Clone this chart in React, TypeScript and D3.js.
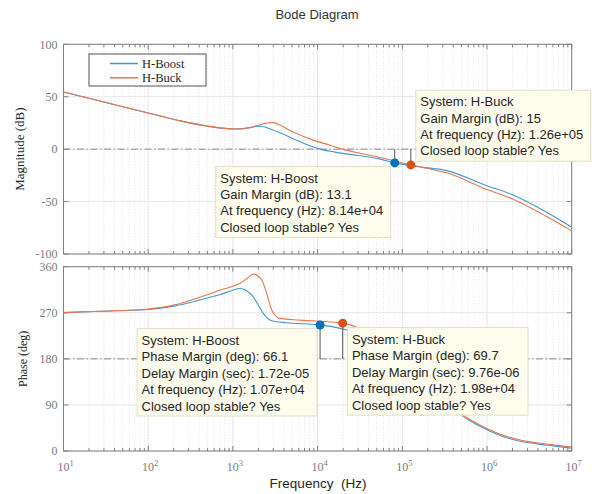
import React from 'react';
import * as d3 from 'd3';

// ---- Open-loop frequency responses (Hz, dB / deg) ----
const boostMagFreq = [10, 20, 50, 100, 240, 500, 800, 1100, 1600, 2000, 2200, 2600, 3600, 5600, 8900, 10700, 16000, 30000, 54600, 81400, 150000, 334000, 1000000, 2000000, 5000000, 10000000];
const boostMag = [54.5, 48.5, 40.5, 34.5, 27, 22, 19.8, 19.2, 20.5, 22, 21.8, 20, 15.6, 8.6, 2, 0, -2.8, -6, -9.5, -13.1, -16.6, -20.5, -35, -43.5, -60, -74.5];

const buckMagFreq = [10, 20, 50, 100, 240, 500, 800, 1100, 1600, 2000, 2500, 2870, 3200, 3600, 4500, 5660, 8900, 14000, 19800, 30000, 54600, 80000, 126000, 200000, 334000, 1000000, 2000000, 5000000, 10000000];
const buckMag = [54.5, 48.5, 40.5, 34.5, 27, 22, 19.8, 19.2, 20.7, 22.8, 24.8, 25.5, 24.8, 23, 18.8, 15, 8.6, 3.8, 0, -3.5, -7.9, -11.2, -15, -18.5, -22.6, -38.5, -47.5, -64, -78];

const boostPhaseFreq = [10, 27, 100, 200, 407, 705, 1000, 1213, 1456, 1742, 1996, 2285, 2870, 4316, 10700, 22100, 40000, 81400, 150000, 250000, 480000, 630000, 1000000, 1560000, 2460000, 3860000, 6000000, 10000000];
const boostPhase = [270.3, 273, 276.5, 283, 295, 305.6, 314, 317.5, 313, 301, 285, 268.8, 254.4, 250.5, 246.1, 236.3, 218, 180, 138, 108, 72, 59, 41.5, 28, 19, 14, 10, 5.5];

const buckPhaseFreq = [10, 27, 100, 200, 407, 705, 1213, 1500, 1742, 2188, 2506, 2870, 3200, 3600, 6190, 19800, 40000, 70000, 126000, 200000, 300000, 480000, 630000, 1000000, 1560000, 2460000, 3860000, 6000000, 10000000];
const buckPhase = [270.3, 273, 277.5, 285, 300.5, 314, 327.5, 338, 345.6, 334, 307.9, 275.3, 264, 259, 255.7, 249.7, 231, 208, 180, 148, 117, 74.5, 61.5, 44, 30.5, 21.5, 16, 12, 7.5];

// ---- Stability margins ----
const systemNames = ['H-Boost', 'H-Buck'];
const gainMarginDb = [13.1, 15];
const gainMarginFreq = [8.14e4, 1.26e5];
const phaseMarginDeg = [66.1, 69.7];
const delayMarginSec = [1.72e-5, 9.76e-6];
const phaseMarginFreq = [1.07e4, 1.98e4];

const magTicks = [-100, -50, 0, 50, 100];
const phaseTicks = [0, 90, 180, 270, 360];
const decadeExponents = [1, 2, 3, 4, 5, 6, 7];

const lineColors = ['#4596d5', '#e8754c'];
const markerColors = ['#0072BD', '#D95319'];

const W = 597;
const H = 494;
const X0 = 63.5;
const X1 = 571.7;
const MAG_TOP = 44.3;
const MAG_BOTTOM = 254;
const PH_TOP = 266.7;
const PH_BOTTOM = 451;

const SANS = '"Liberation Sans", Arial, Helvetica, sans-serif';
const SERIF = '"Liberation Serif", "Times New Roman", serif';
const AXIS = '#808080';

const xScale = d3.scaleLog().domain([10, 1e7]).range([X0, X1]);
const magY = d3.scaleLinear().domain([-100, 100]).range([MAG_BOTTOM, MAG_TOP]);
const phaseY = d3.scaleLinear().domain([0, 360]).range([PH_BOTTOM, PH_TOP]);

const majorFreqs = decadeExponents.map((e) => Math.pow(10, e));
const minorFreqs: number[] = [];
for (let e = 1; e < 7; e++) {
  for (let k = 2; k <= 9; k++) minorFreqs.push(k * Math.pow(10, e));
}

function fmtExp(v: number): string {
  const s = v.toExponential(2);
  return s.replace(/e([+-])(\d)$/, 'e$10$2');
}

function zip(f: number[], v: number[]): [number, number][] {
  return f.map((d, i) => [d, v[i]]);
}

function Frame({ top, bottom, y, ticks, id }: { top: number; bottom: number; y: d3.ScaleLinear<number, number>; ticks: number[]; id: string }) {
  return (
    <g>
      {/* minor grid */}
      {minorFreqs.map((f) => (
        <line key={'mg' + f} x1={xScale(f)} x2={xScale(f)} y1={top} y2={bottom} stroke="#dcdcdc" strokeWidth={0.8} strokeDasharray="1,2" />
      ))}
      {/* major grid */}
      {majorFreqs.map((f) => (
        <line key={'Mg' + f} x1={xScale(f)} x2={xScale(f)} y1={top} y2={bottom} stroke="#e6e6e6" strokeWidth={1} />
      ))}
      {ticks.map((t) => (
        <line key={'hg' + t} x1={X0} x2={X1} y1={y(t)} y2={y(t)} stroke="#e6e6e6" strokeWidth={1} />
      ))}
      {/* ticks */}
      {minorFreqs.map((f) => (
        <g key={'mt' + f}>
          <line x1={xScale(f)} x2={xScale(f)} y1={bottom} y2={bottom - 3} stroke={AXIS} />
          <line x1={xScale(f)} x2={xScale(f)} y1={top} y2={top + 3} stroke={AXIS} />
        </g>
      ))}
      {majorFreqs.map((f) => (
        <g key={'Mt' + f}>
          <line x1={xScale(f)} x2={xScale(f)} y1={bottom} y2={bottom - 5} stroke={AXIS} />
          <line x1={xScale(f)} x2={xScale(f)} y1={top} y2={top + 5} stroke={AXIS} />
        </g>
      ))}
      {ticks.map((t) => (
        <g key={'yt' + t}>
          <line x1={X0} x2={X0 + 5} y1={y(t)} y2={y(t)} stroke={AXIS} />
          <line x1={X1} x2={X1 - 5} y1={y(t)} y2={y(t)} stroke={AXIS} />
          <text x={X0 - 6} y={y(t)} dy="0.35em" textAnchor="end" fontFamily={SERIF} fontSize={12} fill="#7a7a7a">
            {t < 0 ? '-' + Math.abs(t) : t}
          </text>
        </g>
      ))}
      <clipPath id={id}>
        <rect x={X0} y={top} width={X1 - X0} height={bottom - top} />
      </clipPath>
    </g>
  );
}

function Tooltip({ x, y, w, h, lines, spacing }: { x: number; y: number; w: number; h: number; lines: string[]; spacing: number }) {
  return (
    <g>
      <rect x={x} y={y} width={w} height={h} fill="#fefcec" stroke="#e2dfca" strokeWidth={1} />
      {lines.map((l, i) => (
        <text key={i} x={x + 4.5} y={y + 16.3 + i * spacing} fontFamily={SANS} fontSize={13} fill="#262626">
          {l}
        </text>
      ))}
    </g>
  );
}

export default function App() {
  const magLine = d3
    .line<[number, number]>()
    .x((d) => xScale(d[0]))
    .y((d) => magY(d[1]))
    .curve(d3.curveMonotoneX);
  const phaseLine = d3
    .line<[number, number]>()
    .x((d) => xScale(d[0]))
    .y((d) => phaseY(d[1]))
    .curve(d3.curveMonotoneX);

  const magSeries = [zip(boostMagFreq, boostMag), zip(buckMagFreq, buckMag)];
  const phaseSeries = [zip(boostPhaseFreq, boostPhase), zip(buckPhaseFreq, buckPhase)];

  const gmPts = gainMarginFreq.map((f, i) => ({ x: xScale(f), y: magY(-gainMarginDb[i]) }));
  const pmPts = phaseMarginFreq.map((f, i) => ({ x: xScale(f), y: phaseY(180 + phaseMarginDeg[i]) }));

  const gmLines = (i: number) => [
    `System: ${systemNames[i]}`,
    `Gain Margin (dB): ${gainMarginDb[i]}`,
    `At frequency (Hz): ${fmtExp(gainMarginFreq[i])}`,
    'Closed loop stable? Yes',
  ];
  const pmLines = (i: number) => [
    `System: ${systemNames[i]}`,
    `Phase Margin (deg): ${phaseMarginDeg[i]}`,
    `Delay Margin (sec): ${fmtExp(delayMarginSec[i])}`,
    `At frequency (Hz): ${fmtExp(phaseMarginFreq[i])}`,
    'Closed loop stable? Yes',
  ];

  const dashDot = '7,2.5,1.5,2.5';

  return (
    <svg width={W} height={H} style={{ position: 'absolute', left: 0, top: 0, background: '#fff' }}>
      <rect width={W} height={H} fill="#fff" />
      <text x={317} y={19} textAnchor="middle" fontFamily={SANS} fontSize={13} fill="#333">
        Bode Diagram
      </text>

      {/* Magnitude panel */}
      <Frame top={MAG_TOP} bottom={MAG_BOTTOM} y={magY} ticks={magTicks} id="clipMag" />
      <line x1={X0} x2={X1} y1={magY(0)} y2={magY(0)} stroke="#8c8c8c" strokeDasharray={dashDot} />
      <g clipPath="url(#clipMag)">
        {magSeries.map((s, i) => (
          <path key={i} d={magLine(s) || ''} fill="none" stroke={lineColors[i]} strokeWidth={1.1} />
        ))}
      </g>
      <rect x={X0} y={MAG_TOP} width={X1 - X0} height={MAG_BOTTOM - MAG_TOP} fill="none" stroke={AXIS} />
      {gmPts.map((p, i) => (
        <g key={'gm' + i}>
          <line x1={p.x} x2={p.x} y1={magY(0)} y2={p.y} stroke="#555" />
          <circle cx={p.x} cy={p.y} r={4.5} fill={markerColors[i]} />
        </g>
      ))}
      <text transform={`translate(24,${(MAG_TOP + MAG_BOTTOM) / 2}) rotate(-90)`} textAnchor="middle" fontFamily={SERIF} fontSize={13} fill="#262626">
        Magnitude (dB)
      </text>

      {/* Legend */}
      <rect x={89} y={54} width={117} height={32} fill="#fff" stroke="#555" />
      {systemNames.map((n, i) => (
        <g key={n}>
          <line x1={110} x2={138} y1={63.5 + i * 14.3} y2={63.5 + i * 14.3} stroke={lineColors[i]} strokeWidth={1.5} />
          <text x={142} y={63.5 + i * 14.3} dy="0.35em" fontFamily={SERIF} fontSize={12.5} fill="#262626">
            {n}
          </text>
        </g>
      ))}

      {/* Phase panel */}
      <Frame top={PH_TOP} bottom={PH_BOTTOM} y={phaseY} ticks={phaseTicks} id="clipPh" />
      <line x1={X0} x2={X1} y1={phaseY(180)} y2={phaseY(180)} stroke="#8c8c8c" strokeDasharray={dashDot} />
      <g clipPath="url(#clipPh)">
        {phaseSeries.map((s, i) => (
          <path key={i} d={phaseLine(s) || ''} fill="none" stroke={lineColors[i]} strokeWidth={1.1} />
        ))}
      </g>
      <rect x={X0} y={PH_TOP} width={X1 - X0} height={PH_BOTTOM - PH_TOP} fill="none" stroke={AXIS} />
      {pmPts.map((p, i) => (
        <g key={'pm' + i}>
          <line x1={p.x} x2={p.x} y1={phaseY(180)} y2={p.y} stroke="#555" />
        </g>
      ))}
      <text transform={`translate(27,${(PH_TOP + PH_BOTTOM) / 2}) rotate(-90)`} textAnchor="middle" fontFamily={SERIF} fontSize={12} fill="#262626">
        Phase (deg)
      </text>

      {/* Frequency axis labels */}
      {decadeExponents.map((e) => (
        <text key={'xl' + e} x={xScale(Math.pow(10, e)) + 2} y={471} textAnchor="middle" fontFamily={SERIF} fontSize={12} fill="#7a7a7a">
          10
          <tspan dy={-5} fontSize={8.5}>
            {e}
          </tspan>
        </text>
      ))}
      <text x={318} y={488} textAnchor="middle" fontFamily={SANS} fontSize={13.5} fill="#262626" style={{ whiteSpace: 'pre' }}>
        {'Frequency  (Hz)'}
      </text>

      {/* Margin data tips */}
      <Tooltip x={gmPts[0].x - 179} y={gmPts[0].y + 3.7} w={175} h={71} lines={gmLines(0)} spacing={16.3} />
      <Tooltip x={gmPts[1].x + 5} y={gmPts[1].y - 74.7} w={175} h={71} lines={gmLines(1)} spacing={16.3} />
      <Tooltip x={pmPts[0].x - 183} y={pmPts[0].y + 3.6} w={180} h={87.4} lines={pmLines(0)} spacing={16.5} />
      <Tooltip x={pmPts[1].x + 4.7} y={pmPts[1].y + 4.4} w={180.6} h={87.6} lines={pmLines(1)} spacing={16.5} />

      {pmPts.map((p, i) => (
        <circle key={'pmc' + i} cx={p.x} cy={p.y} r={4.5} fill={markerColors[i]} />
      ))}
    </svg>
  );
}
